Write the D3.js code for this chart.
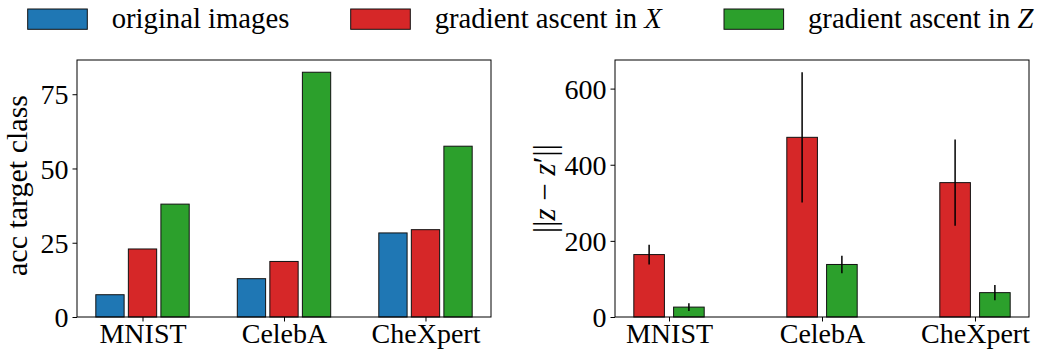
<!DOCTYPE html>
<html>
<head>
<meta charset="utf-8">
<script src="https://cdn.jsdelivr.net/npm/d3@7"></script>
<style>
  html, body { margin: 0; padding: 0; background: #fff; }
  svg { display: block; }
  text { font-family: "Liberation Serif", "Times New Roman", serif; fill: #000; }
</style>
</head>
<body>
<svg id="chart" width="1042" height="349"></svg>
<script>
// ---------- data ----------
const categories = ["MNIST", "CelebA", "CheXpert"];
const accOriginal = [7.5, 12.9, 28.3];
const accGradX = [22.9, 18.7, 29.4];
const accGradZ = [38.0, 82.4, 57.5];
const distGradX = [164, 472, 353];
const distGradXErr = [26, 171, 113];
const distGradZ = [26, 138, 64];
const distGradZErr = [10, 23, 20];
const accTicks = [0, 25, 50, 75];
const distTicks = [0, 200, 400, 600];
const legendLabels = [
  ["original images", null],
  ["gradient ascent in ", "X"],
  ["gradient ascent in ", "Z"]
];
const colors = ["#1f77b4", "#d62728", "#2ca02c"];

// ---------- layout ----------
const FS = 28;
const svg = d3.select("#chart");
const plotTop = 60, plotBottom = 317;

function panel(opts) {
  const { x0, x1, series, ticks, barOffsets, barWidth, yLabel } = opts;
  let minX = Infinity, maxX = -Infinity, maxY = 0;
  series.forEach((s, si) => {
    s.values.forEach((v, i) => {
      const c = i + barOffsets[si];
      minX = Math.min(minX, c - barWidth / 2);
      maxX = Math.max(maxX, c + barWidth / 2);
      maxY = Math.max(maxY, v + (s.err ? s.err[i] : 0));
    });
  });
  const pad = (maxX - minX) * 0.05;
  const x = d3.scaleLinear().domain([minX - pad, maxX + pad]).range([x0, x1]);
  const y = d3.scaleLinear().domain([0, maxY * 1.05]).range([plotBottom, plotTop]);

  const g = svg.append("g");

  series.forEach((s, si) => {
    g.selectAll(null).data(s.values).enter().append("rect")
      .attr("x", (d, i) => x(i + barOffsets[si] - barWidth / 2))
      .attr("width", (d, i) => x(i + barOffsets[si] + barWidth / 2) - x(i + barOffsets[si] - barWidth / 2))
      .attr("y", d => y(d))
      .attr("height", d => y(0) - y(d))
      .attr("fill", s.color)
      .attr("stroke", "#111")
      .attr("stroke-width", 1);
    if (s.err) {
      g.selectAll(null).data(s.values).enter().append("line")
        .attr("x1", (d, i) => x(i + barOffsets[si]))
        .attr("x2", (d, i) => x(i + barOffsets[si]))
        .attr("y1", (d, i) => y(d - s.err[i]))
        .attr("y2", (d, i) => y(d + s.err[i]))
        .attr("stroke", "#000")
        .attr("stroke-width", 1.5);
    }
  });

  g.append("rect")
    .attr("x", x0).attr("y", plotTop)
    .attr("width", x1 - x0).attr("height", plotBottom - plotTop)
    .attr("fill", "none").attr("stroke", "#000").attr("stroke-width", 1);

  const yAxis = d3.axisLeft(y).tickValues(ticks).tickSize(4.5).tickPadding(4);
  const ya = g.append("g").attr("transform", `translate(${x0},0)`).call(yAxis);
  ya.select(".domain").remove();
  ya.selectAll("line").attr("stroke", "#000");
  ya.selectAll("text").attr("font-size", FS).attr("dy", "0.34em");

  const xAxis = d3.axisBottom(x).tickValues(categories.map((c, i) => i))
    .tickFormat(i => categories[i]).tickSize(4.5).tickPadding(3);
  const xa = g.append("g").attr("transform", `translate(0,${plotBottom})`).call(xAxis);
  xa.select(".domain").remove();
  xa.selectAll("line").attr("stroke", "#000");
  xa.selectAll("text").attr("font-size", FS).attr("dy", "0.66em");

  yLabel(g, (plotTop + plotBottom) / 2);
}

panel({
  x0: 77, x1: 491,
  series: [
    { values: accOriginal, color: colors[0] },
    { values: accGradX, color: colors[1] },
    { values: accGradZ, color: colors[2] }
  ],
  barOffsets: [-0.23, 0, 0.23],
  barWidth: 0.2,
  ticks: accTicks,
  yLabel: (g, cy) => {
    g.append("text")
      .attr("transform", `translate(27,${cy - 3}) rotate(-90)`)
      .attr("text-anchor", "middle")
      .attr("font-size", 30)
      .text("acc target class");
  }
});

panel({
  x0: 615, x1: 1029,
  series: [
    { values: distGradX, err: distGradXErr, color: colors[1] },
    { values: distGradZ, err: distGradZErr, color: colors[2] }
  ],
  barOffsets: [-0.13, 0.13],
  barWidth: 0.2,
  ticks: distTicks,
  yLabel: (g, cy) => {
    const t = g.append("text")
      .attr("transform", `translate(555,${cy}) rotate(-90)`)
      .attr("text-anchor", "middle")
      .attr("font-size", 31);
    t.append("tspan").text("||");
    t.append("tspan").attr("font-style", "italic").text("z");
    t.append("tspan").text(" \u2212 ");
    t.append("tspan").attr("font-style", "italic").text("z");
    t.append("tspan").text("\u2032||");
  }
});

// legend: three entries spread across the top
const legendStarts = [27.7, 350.7, 724];
legendLabels.forEach((lab, i) => {
  const lx = legendStarts[i];
  svg.append("rect")
    .attr("x", lx).attr("y", 9).attr("width", 59.6).attr("height", 20.3)
    .attr("fill", colors[i]).attr("stroke", "#111").attr("stroke-width", 1);
  const t = svg.append("text")
    .attr("x", lx + 84).attr("y", 27.5)
    .attr("font-size", 28.7);
  t.append("tspan").text(lab[0]);
  if (lab[1]) t.append("tspan").attr("font-style", "italic").text(lab[1]);
});
</script>
</body>
</html>
